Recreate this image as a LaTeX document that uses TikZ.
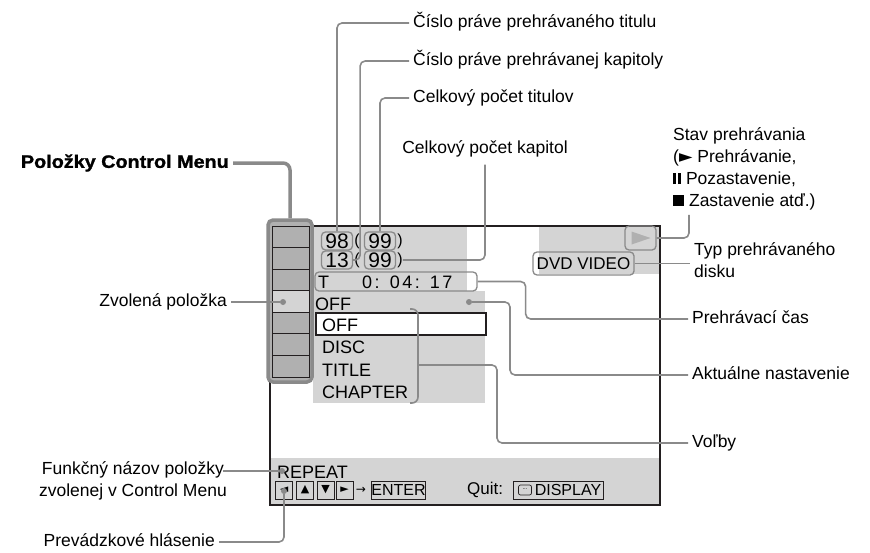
\documentclass[tikz,border=0pt]{standalone}
\usepackage{fontspec}
\setmainfont{Liberation Sans}
\newfontfamily\headfont[FakeStretch=1.1, FakeBold=1.3]{Liberation Sans Bold}
\newfontfamily\timefont[LetterSpace=14]{Liberation Sans}
\newfontfamily\symfont{DejaVu Sans}
\usetikzlibrary{positioning, calc}
\definecolor{scrgray}{HTML}{D4D4D4}
\definecolor{cellgray}{HTML}{B0B0B0}
\definecolor{leadgray}{HTML}{8A8A8A}
\definecolor{framegray}{HTML}{231F20}

\begin{document}
\begin{tikzpicture}[x=1pt, y=-1pt,
    lbl/.style={font=\fontsize{17.5}{22}\selectfont, inner xsep=4pt, inner ysep=0pt,
                text height=13pt, text depth=4pt},
    scr/.style={font=\fontsize{18}{22}\selectfont, inner sep=0pt},
    paren/.style={font=\fontsize{16}{16}\selectfont, inner sep=0pt},
    leader/.style={draw=leadgray, line width=1.6pt, rounded corners=5pt},
    numbox/.style={draw=leadgray, line width=1.3pt, rounded corners=4pt,
                   minimum width=31pt, minimum height=18pt, inner sep=0pt,
                   font=\fontsize{21}{22}\selectfont},
    cell/.style={draw=framegray, line width=0.9pt, fill=cellgray,
                 minimum width=37pt, minimum height=21.57pt, inner sep=0pt},
    keybox/.style={draw=framegray, line width=0.9pt, minimum width=17pt,
                   minimum height=18pt, inner sep=0pt,
                   font=\symfont\fontsize{11}{11}\selectfont},
    dot/.style={circle, fill=leadgray, minimum size=6pt, inner sep=0pt}
  ]
    \useasboundingbox (0,0) rectangle (870,552);

    % screen
    \fill[scrgray] (313,227) rectangle (467,291);
    \fill[scrgray] (313,291) rectangle (485,403);
    \fill[scrgray] (539,227) rectangle (660,274);
    \fill[scrgray] (270,458) rectangle (660,505);
    \draw[framegray, line width=2.2pt] (270,226) rectangle (660,505);

    % control menu column
    \node[draw=leadgray, line width=3.5pt, rounded corners=5pt, fill=cellgray,
          minimum width=44pt, minimum height=162pt] (cmcol) at (290,301) {};
    \foreach \i in {1,...,7}
      \node[cell] (cell\i) at (290.5, 215.2+21.57*\i) {};
    \node[cell, fill=scrgray] (selCell) at (cell4) {};
    \node[dot] (selDot) at (283,302) {};

    % numbers and time
    \node[numbox] (b98) at (337,241) {98};
    \node[paren] (lp98) at (357,241) {(};
    \node[numbox] (b99t) at (380,241) {99};
    \node[paren] (rp98) at (400,241) {)};
    \node[numbox] (b13) at (337,260) {13};
    \node[paren] (lp13) at (357,260) {(};
    \node[numbox] (b99c) at (380,260) {99};
    \node[paren] (rp13) at (400,260) {)};
    \node[numbox, minimum width=162pt, minimum height=19pt] (tbox) at (396,281.5) {};
    \node[scr, anchor=west] (tLetter) at (318,282) {T};
    \node[scr, anchor=west] (tTime) at (362,282) {\timefont 0: 04: 17};

    % play state and disc type
    \node[numbox, minimum width=31pt, minimum height=24pt] (playbox) at (640.5,238) {};
    \fill[cellgray] ([xshift=-9pt,yshift=6.5pt]playbox.center)
      -- ([xshift=10pt]playbox.center) -- ([xshift=-9pt,yshift=-6.5pt]playbox.center) -- cycle;
    \node[numbox, minimum width=101pt, minimum height=23pt,
          font=\fontsize{17}{20}\selectfont] (dvdbox) at (583.5,263.5) {DVD VIDEO};

    % options
    \node[scr, anchor=west] (curSet) at (315,304) {OFF};
    \node[dot] (curDot) at (469,302) {};
    \node[draw=framegray, fill=white, line width=1.2pt, minimum width=170pt,
          minimum height=22pt, inner sep=0pt] (optBox) at (401,324) {};
    \node[scr, anchor=west] (optOff) at (322,325) {OFF};
    \node[scr, anchor=west] (optDisc) at (322,347) {DISC};
    \node[scr, anchor=west] (optTitle) at (322,370) {TITLE};
    \node[scr, anchor=west] (optChap) at (322,392) {CHAPTER};
    \draw[leader, rounded corners=6pt] (410,309) -| (418,365) |- (410,403);
    \coordinate (brMid) at (418,365);

    % bottom band
    \node[scr, anchor=west] (repeat) at (277,472) {REPEAT};
    \node[dot] (repDot) at (282,471) {};
    \node[keybox] (kLeft) at (284,490) {◄};
    \node[keybox] (kUp) at (305,490) {▲};
    \node[keybox] (kDown) at (325.5,490) {▼};
    \node[keybox] (kRight) at (344.5,490) {►};
    \node[scr, font=\symfont\fontsize{12}{12}\selectfont] (kArrow) at (361,490) {→};
    \node[keybox, minimum width=51pt, font=\fontsize{16}{16}\selectfont] (kEnter) at (398.5,490) {ENTER};
    \node[scr, anchor=west, font=\fontsize{17}{20}\selectfont] (quit) at (467,490) {Quit:};
    \node[keybox, minimum width=90pt, font=\fontsize{16}{16}\selectfont] (kDisp) at (558,490) {\hspace{20pt}DISPLAY};
    \node[draw=framegray, line width=0.7pt, rounded corners=2pt, minimum width=13pt,
          minimum height=10pt, inner sep=0pt, font=\fontsize{6}{6}\selectfont] (dispIcon)
          at (525,490) {\raisebox{2pt}{...}};
    \node[dot] (msgDot) at (284,491) {};

    % labels
    \node[anchor=east, font=\headfont\fontsize{18}{22}\selectfont, inner xsep=4pt,
          inner ysep=0pt] (lItems) at (233,163) {Položky Control Menu};
    \node[lbl, anchor=east] (lSel) at (231,302) {Zvolená položka};
    \node[lbl, anchor=west] (lTitleNo) at (409,23) {Číslo práve prehrávaného titulu};
    \node[lbl, anchor=west] (lChapNo) at (409,61) {Číslo práve prehrávanej kapitoly};
    \node[lbl, anchor=west] (lTitleAll) at (409,98) {Celkový počet titulov};
    \node[lbl] (lChapAll) at (485,149) {Celkový počet kapitol};
    \node[lbl, anchor=north west, align=left, text height=, text depth=] (lState) at (669,127)
      {Stav prehrávania\\({\symfont ►} Prehrávanie,\\
       \rule{3pt}{11pt}\hspace{2pt}\rule{3pt}{11pt} Pozastavenie,\\
       \rule{11pt}{11pt} Zastavenie atď.)};
    \node[lbl, anchor=west, align=left, text height=, text depth=] (lDisc) at (690,260)
      {Typ prehrávaného\\disku};
    \node[lbl, anchor=west] (lTime) at (688,319) {Prehrávací čas};
    \node[lbl, anchor=west] (lCur) at (688,375) {Aktuálne nastavenie};
    \node[lbl, anchor=west] (lOpt) at (688,443) {Voľby};
    \node[lbl, anchor=east, align=center, text height=, text depth=] (lFunc) at (231,481)
      {Funkčný názov položky\\zvolenej v Control Menu};
    \node[lbl, anchor=east] (lMsg) at (219,542) {Prevádzkové hlásenie};

    % leaders
    \draw[leader, line width=3.5pt, rounded corners=7pt] (lItems.east) -| (cmcol.north);
    \draw[leader] (lSel.east) -- (selDot);
    \draw[leader] (lTitleNo.west) -| (b98.north);
    \draw[leader] (lChapNo.west) -| ($(b13.east)+(7,0)$) -- (b13.east);
    \draw[leader] (lTitleAll.west) -| (b99t.north);
    \draw[leader] ([yshift=-7pt]lChapAll.south) |- (rp13.east);
    \draw[leader] ([xshift=20pt,yshift=-5pt]lState.south west) |- (playbox.east);
    \draw[leader] (dvdbox.east) -- (lDisc.west |- dvdbox.east);
    \draw[leader] (tbox.east) -- ++(48,0) |- (lTime.west);
    \draw[leader] (curDot) -- ++(41,0) |- (lCur.west);
    \draw[leader] (brMid) -- ++(79,0) |- (lOpt.west);
    \draw[leader] ([xshift=-8pt]lFunc.east |- repDot) -- (repDot);
    \draw[leader] (lMsg.east) -| (msgDot);
  \end{tikzpicture}
\end{document}
